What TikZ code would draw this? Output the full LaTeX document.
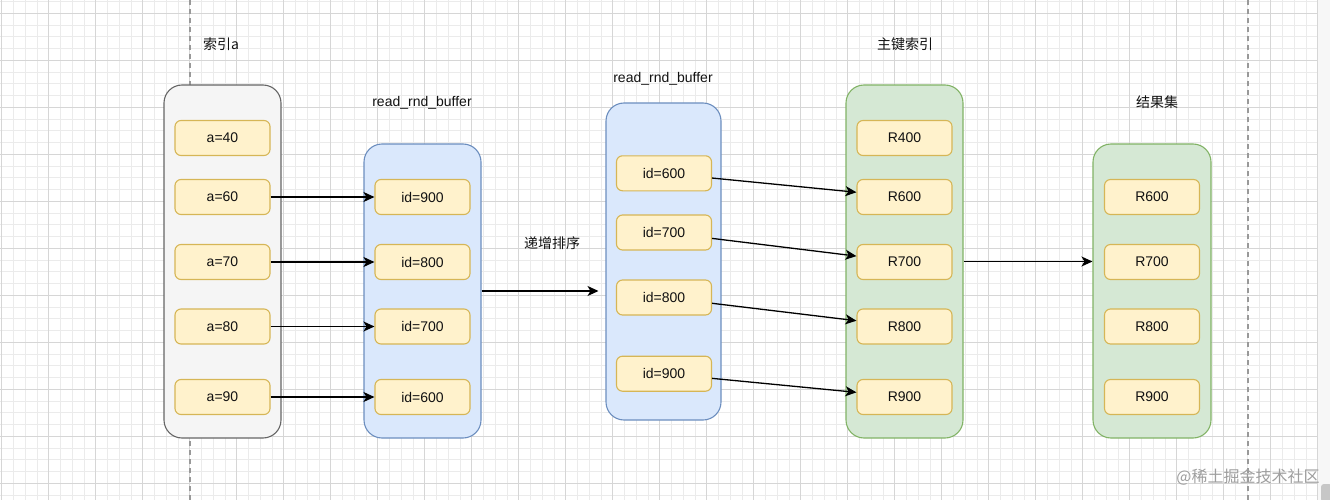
\documentclass[tikz,border=0pt]{standalone}
\usepackage{fontspec}
\setmainfont{Liberation Sans}
\newfontfamily\cjk{Noto Sans CJK SC}
\usetikzlibrary{arrows.meta}
\definecolor{gridminor}{HTML}{EBEBEB}
\definecolor{gridmajor}{HTML}{D6D6D6}
\definecolor{grayfill}{HTML}{F5F5F5}
\definecolor{graystroke}{HTML}{666666}
\definecolor{bluefill}{HTML}{DAE8FC}
\definecolor{bluestroke}{HTML}{6C8EBF}
\definecolor{greenfill}{HTML}{D5E8D4}
\definecolor{greenstroke}{HTML}{82B366}
\definecolor{yellowfill}{HTML}{FFF2CC}
\definecolor{yellowstroke}{HTML}{D6B656}
\definecolor{txt}{HTML}{111111}
\tikzset{
  container/.style={draw, line width=1.1pt, rounded corners=18pt, minimum width=117pt, inner sep=0pt},
  graybox/.style={container, fill=grayfill, draw=graystroke},
  bluebox/.style={container, fill=bluefill, draw=bluestroke},
  greenbox/.style={container, fill=greenfill, draw=greenstroke},
  item/.style={draw=yellowstroke, fill=yellowfill, line width=1.1pt, rounded corners=6pt,
    minimum width=95pt, minimum height=35pt, inner sep=0pt, font=\fontsize{14pt}{16pt}\selectfont, text=txt},
  title/.style={font=\fontsize{14pt}{16pt}\selectfont, text=txt, inner sep=0pt},
  cjktitle/.style={font=\cjk\fontsize{14pt}{16pt}\selectfont, text=txt, inner sep=0pt},
  conn/.style={line width=1.3pt, -{Stealth[length=11pt,width=10pt,inset=3pt]}},
  guide/.style={draw=black!40, line width=1.1pt, dash pattern=on 5pt off 4pt},
}
\begin{document}
\begin{tikzpicture}[x=1pt,y=-1pt]
\useasboundingbox (0,0) rectangle (1330,500);
\fill[white] (0,0) rectangle (1330,500);
\fill[black!3] (1318,0) rectangle (1330,500);
% grid
\foreach \i in {0,...,112} \draw[gridminor, line width=0.8pt] ({1.7+11.75*\i},0) -- ({1.7+11.75*\i},500);
\foreach \i in {0,...,42} \draw[gridminor, line width=0.8pt] (0,{1.55+11.75*\i}) -- (1318,{1.55+11.75*\i});
\foreach \i in {0,...,28} \draw[gridmajor, line width=1pt] ({1.7+47*\i},0) -- ({1.7+47*\i},500);
\foreach \i in {0,...,10} \draw[gridmajor, line width=1pt] (0,{13.3+47*\i}) -- (1318,{13.3+47*\i});
\fill[black!22, rounded corners=3pt] (1321,484) rectangle (1332,502);
% dashed guides
\coordinate (g1t) at (190,0); \coordinate (g1b) at (190,500);
\coordinate (g2t) at (1248,0); \coordinate (g2b) at (1248,500);
\draw[guide] (g1t) -- (g1b);
\draw[guide] (g2t) -- (g2b);
% containers
\node[graybox, minimum height=353pt] (c1) at (222.5,261.5) {};
\node[bluebox, minimum height=294pt] (c2) at (422.5,291) {};
\node[bluebox, minimum height=317pt, minimum width=115pt] (c3) at (663.5,261.5) {};
\node[greenbox, minimum height=353pt] (c4) at (904.5,261.5) {};
\node[greenbox, minimum height=294pt, minimum width=118pt] (c5) at (1152,291) {};
% titles
\node[cjktitle] (t1) at (221,44) {索引a};
\node[title] (t2) at (422,103) {read\_rnd\_buffer};
\node[title] (t3) at (663,79) {read\_rnd\_buffer};
\node[cjktitle] (t4) at (905,44) {主键索引};
\node[cjktitle] (t5) at (1157,102) {结果集};
\node[cjktitle] (t6) at (552,243) {递增排序};
% column 1
\node[item] (a40) at (222.5,138) {a=40};
\node[item] (a60) at (222.5,197) {a=60};
\node[item] (a70) at (222.5,262) {a=70};
\node[item] (a80) at (222.5,326.5) {a=80};
\node[item] (a90) at (222.5,397) {a=90};
% column 2
\node[item] (b900) at (422.5,197) {id=900};
\node[item] (b800) at (422.5,262) {id=800};
\node[item] (b700) at (422.5,326.5) {id=700};
\node[item] (b600) at (422.5,397) {id=600};
% column 3
\node[item] (s600) at (664,173.3) {id=600};
\node[item] (s700) at (664,232.5) {id=700};
\node[item] (s800) at (664,297.5) {id=800};
\node[item] (s900) at (664,373.7) {id=900};
% column 4
\node[item] (r400) at (904.5,138) {R400};
\node[item] (r600) at (904.5,197) {R600};
\node[item] (r700) at (904.5,262) {R700};
\node[item] (r800) at (904.5,326.5) {R800};
\node[item] (r900) at (904.5,397) {R900};
% column 5
\node[item] (q600) at (1152,197) {R600};
\node[item] (q700) at (1152,262) {R700};
\node[item] (q800) at (1152,326.5) {R800};
\node[item] (q900) at (1152,397) {R900};
% connectors
\draw[conn] (a60) -- (b900);
\draw[conn] (a70) -- (b800);
\draw[conn] (a80) -- (b700);
\draw[conn] (a90) -- (b600);
\coordinate (sortend) at (598.5,291);
\draw[conn] (c2.east) -- (sortend);
\draw[conn] (s600) -- (r600);
\draw[conn] (s700) -- (r700);
\draw[conn] (s800) -- (r800);
\draw[conn] (s900) -- (r900);
\draw[conn] (c4.east) -- (c5.west |- c4.east);
% watermark
\node[font=\cjk\fontsize{16pt}{18pt}\selectfont, text=black!38, inner sep=0pt] (wm) at (1248,477) {@稀土掘金技术社区};
\end{tikzpicture}
\end{document}
